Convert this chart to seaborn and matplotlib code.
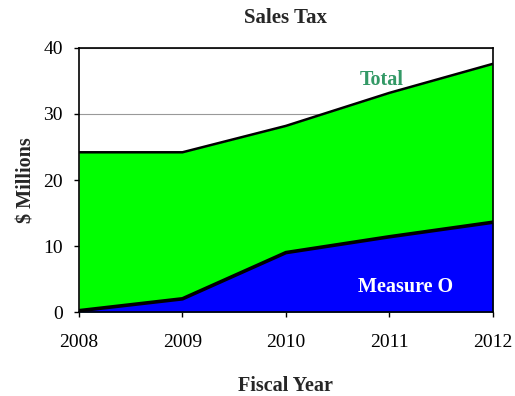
import numpy as np
import pandas as pd
import matplotlib
matplotlib.use("Agg")
import matplotlib.pyplot as plt
import seaborn as sns

# data
years = [2008, 2009, 2010, 2011, 2012]
total = [24.2, 24.2, 28.2, 33.2, 37.6]
measure_o = [0.2, 2.0, 9.0, 11.4, 13.6]

df = pd.DataFrame({"year": years, "total": total, "measure_o": measure_o})

# %%
sns.set_style("white")
plt.rcParams["font.family"] = ["Liberation Serif", "DejaVu Serif"]

fig = plt.figure(figsize=(5.15, 3.96), dpi=100)
ax = fig.add_axes([0.1534, 0.2121, 0.8036, 0.6667])

ax.yaxis.grid(True, color="#999999", linewidth=0.8, zorder=0)
ax.set_axisbelow(True)

ax.fill_between(df["year"], 0, df["total"], color="#00ff00", zorder=2, linewidth=0)
ax.fill_between(df["year"], 0, df["measure_o"], color="#0000ff", zorder=3, linewidth=0)

sns.lineplot(data=df, x="year", y="total", ax=ax, color="k", linewidth=1.8, zorder=4)
sns.lineplot(data=df, x="year", y="measure_o", ax=ax, color="k", linewidth=2.6, zorder=4)

ax.set_xlim(2008, 2012)
ax.set_ylim(0, 40)
ax.set_xticks(years)
ax.set_yticks(np.arange(0, 41, 10))
ax.tick_params(axis="both", labelsize=14, direction="out", length=3.5, width=1, colors="k",
               bottom=True, left=True)
ax.tick_params(axis="x", pad=12)
ax.tick_params(axis="y", pad=8)
for s in ax.spines.values():
    s.set_color("k")
    s.set_linewidth(1.2)
    s.set_zorder(5)

ax.set_title("Sales Tax", fontsize=15, fontweight="bold", pad=18)
ax.set_xlabel("Fiscal Year", fontsize=14.5, fontweight="bold", labelpad=18)
ax.set_ylabel(r"\$ Millions", fontsize=14.5, fontweight="bold", labelpad=5)

ax.text(2010.93, 35.2, "Total", color="#339966", fontsize=14.5, fontweight="bold",
        ha="center", va="center", zorder=6)
ax.text(2011.16, 3.8, "Measure O", color="white", fontsize=14.5, fontweight="bold",
        ha="center", va="center", zorder=6)

plt.savefig("out.png", dpi=100)
